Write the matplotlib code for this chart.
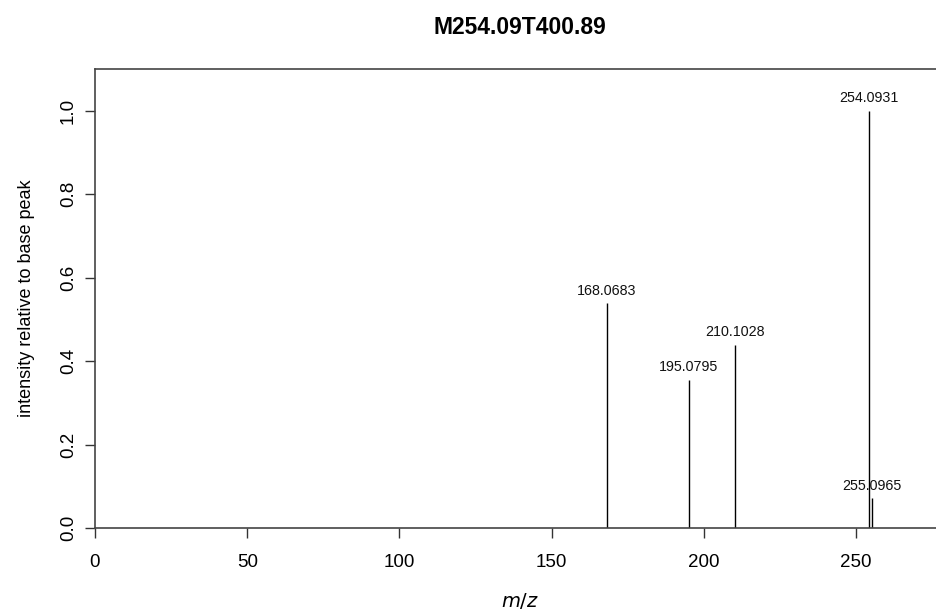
import matplotlib
matplotlib.use("Agg")
import matplotlib.pyplot as plt

plt.rcParams['font.family'] = ['Liberation Sans', 'DejaVu Sans']

title = "M254.09T400.89"
mz = [168.0683, 195.0795, 210.1028, 254.0931, 255.0965]
intensity = [0.539, 0.355, 0.439, 1.0, 0.071]
xticks = [0, 50, 100, 150, 200, 250]
yticks = [0.0, 0.2, 0.4, 0.6, 0.8, 1.0]

fig = plt.figure(figsize=(9.37, 6.16), dpi=100)
ax = fig.add_axes([95/937, 1-528/616, 851/937, (528-69)/616])

ax.vlines(mz, 0, intensity, color='black', lw=1.0)
for x, y in zip(mz, intensity):
    ax.annotate(f"{x:.4f}", (x, y), xytext=(0, 4), textcoords='offset points',
                ha='center', va='bottom', fontsize=10.3, color='#111111')

ax.set_xlim(0, 279.5)
ax.set_ylim(0, 1.1)
ax.set_xticks(xticks)
ax.set_yticks(yticks)
ax.set_yticklabels([f"{v:.1f}" for v in yticks], rotation=90, va='center')
ax.tick_params(axis='both', length=7, width=1, color='#333333', labelsize=13.5)
ax.tick_params(axis='x', pad=12)
ax.tick_params(axis='y', pad=6)
for s in ax.spines.values():
    s.set_color('#444444')
    s.set_linewidth(1.2)

ax.set_xlabel(r'$m/z$', fontsize=14, labelpad=14)
ax.set_ylabel('intensity relative to base peak', fontsize=13, labelpad=18)
fig.text(520/937, 1-28/616, title, ha='center', va='center', fontsize=16.5, fontweight='bold')

fig.savefig('out.png', dpi=100)
